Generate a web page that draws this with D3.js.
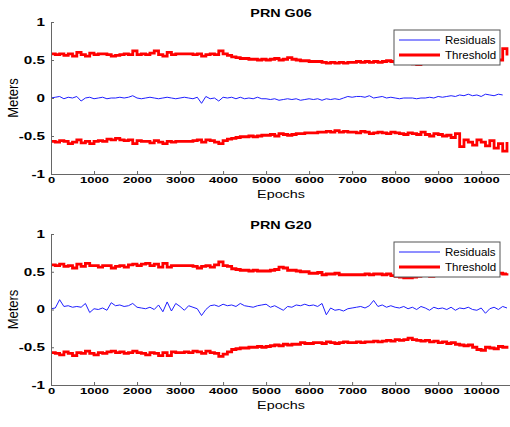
<!DOCTYPE html>
<html>
<head>
<meta charset="utf-8">
<script src="https://cdn.jsdelivr.net/npm/d3@7"></script>
<style>
  body { margin: 0; background: #fff; }
  svg { display: block; }
  text { font-family: "Liberation Sans", Arial, sans-serif; fill: #000; }
</style>
</head>
<body>
<svg id="chart"></svg>
<script>
// epochs are sampled every 100
const step = 100;
const xTicks = [0, 1000, 2000, 3000, 4000, 5000, 6000, 7000, 8000, 9000, 10000];
const yTicks = [-1, -0.5, 0, 0.5, 1];
const seriesNames = ["Residuals", "Threshold"];

// PRN G06
const g06Residuals = [
  .00,.01,.02,-.01,.01,.00,.02,-.04,.00,.01,
  -.01,.00,.01,-.01,.00,.00,.01,.00,.01,.03,
  .00,-.01,.00,.01,.00,-.01,.00,.01,.00,-.01,
  .00,.01,.00,-.01,.01,-.07,.02,-.01,.00,-.04,
  .01,.00,.01,-.01,.01,-.01,.00,-.01,.01,-.01,
  -.01,-.02,-.01,-.03,-.02,-.01,-.02,-.01,-.03,-.02,
  -.01,-.02,-.01,-.03,-.01,-.02,-.01,-.02,.00,.02,
  .01,.02,.02,.01,.03,.00,.01,.02,.00,.01,
  .00,-.01,.00,.00,.00,-.01,.00,.00,.01,.00,
  .02,.01,.02,.03,.02,.04,.03,.05,.03,.04,
  .02,.05,.04,.03,.05,.04
];
const g06Upper = [
  .58,.57,.58,.56,.58,.55,.60,.57,.55,.59,
  .57,.58,.58,.57,.55,.56,.57,.58,.57,.62,
  .57,.58,.57,.59,.62,.57,.55,.60,.57,.58,
  .58,.58,.58,.57,.58,.55,.57,.58,.57,.62,
  .58,.56,.54,.53,.52,.52,.51,.51,.50,.51,
  .50,.51,.52,.50,.51,.53,.51,.50,.49,.49,
  .48,.48,.48,.47,.46,.47,.46,.47,.46,.47,
  .47,.48,.47,.48,.47,.48,.47,.48,.49,.48,
  .47,.48,.46,.47,.45,.44,.47,.46,.47,.48,
  .49,.47,.50,.46,.52,.48,.55,.50,.53,.56,
  .55,.60,.52,.68,.50,.65,.56
];
const g06Lower = [
  -.57,-.58,-.56,-.57,-.60,-.58,-.55,-.59,-.57,-.60,
  -.57,-.56,-.57,-.54,-.55,-.53,-.55,-.56,-.55,-.60,
  -.56,-.57,-.57,-.59,-.56,-.58,-.60,-.57,-.58,-.57,
  -.57,-.57,-.57,-.56,-.55,-.58,-.55,-.56,-.58,-.60,
  -.56,-.54,-.53,-.52,-.51,-.51,-.50,-.51,-.50,-.49,
  -.49,-.48,-.50,-.47,-.48,-.49,-.48,-.47,-.47,-.46,
  -.46,-.46,-.45,-.45,-.44,-.45,-.43,-.45,-.44,-.45,
  -.45,-.46,-.44,-.45,-.47,-.46,-.45,-.46,-.47,-.45,
  -.46,-.47,-.48,-.46,-.47,-.48,-.45,-.48,-.50,-.47,
  -.48,-.50,-.49,-.52,-.47,-.64,-.55,-.58,-.62,-.55,
  -.58,-.63,-.56,-.66,-.60,-.70,-.58
];

// PRN G20
const g20Residuals = [
  .01,.02,.13,.04,.05,.03,.04,.03,.08,-.04,
  .01,.00,.02,-.01,.09,.05,.06,.04,.05,.08,
  .03,.02,.01,.03,.00,.06,-.03,.10,-.02,.08,
  .04,-.01,.05,.03,.01,-.08,.00,.05,.06,.04,
  .07,.05,.06,.04,.08,.05,.04,.03,.05,.06,
  .07,.03,.05,.02,-.01,.04,.03,.06,.05,.07,
  .05,.06,.04,.08,-.07,.02,-.01,.00,-.02,.01,
  .02,.03,.04,.02,.05,.12,.04,.06,.03,.05,
  .03,.02,.04,.01,.03,.00,.04,.02,-.01,.03,
  .01,.02,.00,.03,-.01,.02,.01,.03,.00,-.01,
  .02,-.05,.01,.03,.00,.04,.02
];
const g20Upper = [
  .59,.58,.60,.57,.58,.55,.60,.57,.61,.58,
  .58,.56,.58,.58,.55,.57,.58,.56,.59,.60,
  .58,.60,.61,.58,.60,.56,.61,.56,.58,.58,
  .58,.58,.58,.57,.55,.57,.58,.56,.59,.63,
  .58,.57,.54,.53,.52,.52,.51,.52,.51,.51,
  .51,.52,.53,.56,.55,.52,.52,.51,.50,.50,
  .48,.48,.49,.46,.47,.47,.48,.46,.46,.46,
  .46,.46,.46,.47,.46,.47,.47,.46,.47,.45,
  .44,.43,.42,.42,.43,.44,.45,.45,.44,.45,
  .45,.46,.45,.46,.45,.46,.46,.47,.47,.48,
  .47,.48,.49,.48,.48,.47,.48
];
const g20Lower = [
  -.57,-.58,-.60,-.56,-.58,-.61,-.57,-.58,-.55,-.58,
  -.60,-.57,-.58,-.56,-.55,-.57,-.56,-.58,-.57,-.55,
  -.57,-.58,-.60,-.57,-.58,-.61,-.57,-.61,-.56,-.57,
  -.57,-.56,-.57,-.55,-.56,-.58,-.55,-.57,-.58,-.62,
  -.59,-.56,-.53,-.52,-.51,-.51,-.50,-.50,-.49,-.50,
  -.49,-.48,-.47,-.48,-.46,-.47,-.46,-.46,-.44,-.45,
  -.45,-.44,-.44,-.45,-.43,-.44,-.45,-.44,-.43,-.44,
  -.44,-.43,-.44,-.43,-.43,-.42,-.43,-.42,-.41,-.42,
  -.40,-.41,-.40,-.38,-.40,-.41,-.42,-.41,-.43,-.42,
  -.44,-.43,-.45,-.44,-.46,-.47,-.48,-.47,-.50,-.53,
  -.54,-.50,-.51,-.52,-.49,-.50,-.48
];

const width = 510, height = 427;
const sx = 1.33; // text in the picture is stretched sideways
const svg = d3.select("#chart").attr("width", width).attr("height", height);

const x = d3.scaleLinear().domain([0, 10670]).range([51, 510]);

const panels = [
  { title: "PRN G06", top: 22, bottom: 174, res: g06Residuals, up: g06Upper, lo: g06Lower },
  { title: "PRN G20", top: 234, bottom: 385, res: g20Residuals, up: g20Upper, lo: g20Lower }
];

panels.forEach(p => {
  const y = d3.scaleLinear().domain([-1, 1]).range([p.bottom, p.top]);
  const g = svg.append("g");

  const line = d3.line()
    .x((d, i) => x(i * step))
    .y(d => y(d));
  const stepLine = d3.line()
    .curve(d3.curveStepAfter)
    .x((d, i) => x(i * step))
    .y(d => y(d));

  g.append("path")
    .attr("d", line(p.res))
    .attr("fill", "none")
    .attr("stroke", "#1f1fff")
    .attr("stroke-width", 1);
  [p.up, p.lo].forEach(s => {
    g.append("path")
      .attr("d", stepLine(s))
      .attr("fill", "none")
      .attr("stroke", "#ff0000")
      .attr("stroke-width", 2.8);
  });

  // axes, ticks pointing inward
  const xAxis = g.append("g")
    .attr("transform", `translate(0,${p.bottom})`)
    .call(d3.axisBottom(x).tickValues(xTicks).tickSizeInner(-3).tickSizeOuter(0).tickPadding(2).tickFormat(d3.format("d")));
  const yAxis = g.append("g")
    .attr("transform", `translate(51,0)`)
    .call(d3.axisLeft(y).tickValues(yTicks).tickSizeInner(-3).tickSizeOuter(0).tickFormat(d => d));
  [xAxis, yAxis].forEach(a => {
    a.select(".domain").attr("stroke", "#666");
    a.selectAll(".tick line").attr("stroke", "#666");
    a.selectAll("text")
      .attr("font-family", "Liberation Sans, Arial, sans-serif")
      .attr("font-weight", "bold")
      .attr("font-size", 9.8)
      .attr("fill", "#000");
  });
  xAxis.selectAll("text").attr("transform", `scale(${sx},1)`);
  yAxis.selectAll("text")
    .attr("font-size", 10.5)
    .attr("x", -6 / 1.45)
    .attr("transform", `scale(1.45,1)`);

  g.append("text")
    .attr("transform", `translate(281,${p.top - 5}) scale(${sx},1)`)
    .attr("text-anchor", "middle")
    .attr("font-weight", "bold")
    .attr("font-size", 10.8)
    .text(p.title);

  g.append("text")
    .attr("transform", `translate(281,${p.bottom + 24}) scale(${sx},1)`)
    .attr("text-anchor", "middle")
    .attr("font-size", 10.8)
    .text("Epochs");

  g.append("text")
    .attr("transform", `translate(18,${y(0)}) rotate(-90) scale(1,1.1)`)
    .attr("text-anchor", "middle")
    .attr("font-size", 13)
    .text("Meters");

  // legend
  const lg = g.append("g").attr("transform", `translate(394,${p.top + 8})`);
  lg.append("rect")
    .attr("width", 106).attr("height", 35)
    .attr("fill", "#fff").attr("stroke", "#555").attr("stroke-width", 1);
  seriesNames.forEach((name, i) => {
    const ly = 10 + i * 15;
    lg.append("line")
      .attr("x1", 5).attr("x2", 46).attr("y1", ly).attr("y2", ly)
      .attr("stroke", i === 0 ? "#1f1fff" : "#ff0000")
      .attr("stroke-width", i === 0 ? 1 : 2.8);
    lg.append("text")
      .attr("transform", `translate(51,${ly + 4}) scale(1.03,1)`)
      .attr("font-size", 11.2)
      .text(name);
  });
});
</script>
</body>
</html>
